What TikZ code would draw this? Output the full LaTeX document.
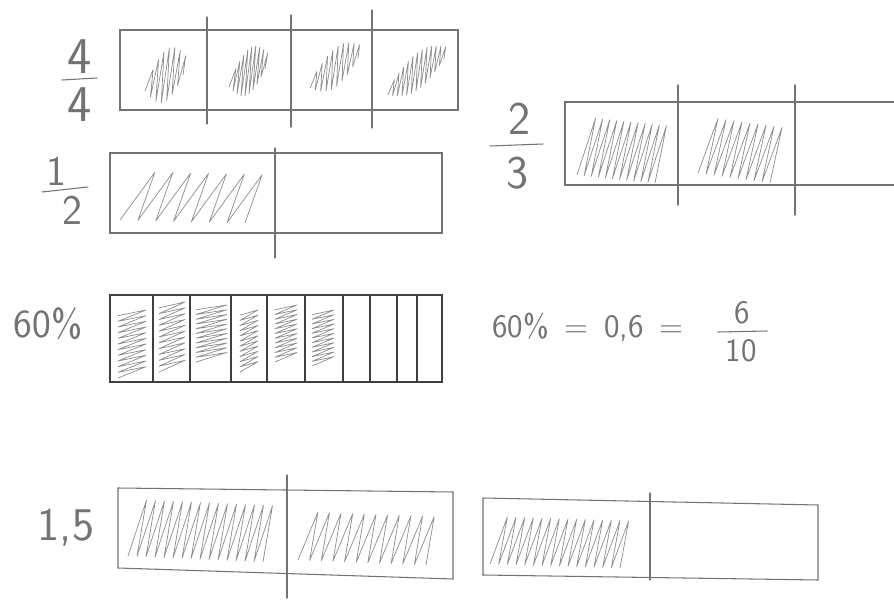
\documentclass[tikz,border=0pt]{standalone}

% pencil zigzag, strokes leaning right: left, width, top, bottom, strokes, rise, slant
\newcommand{\zigfill}[7]{%
  \draw[shade] (#1,#4) \foreach \k in {1,...,#5} {
      -- ({#1+(\k-0.5)*#2/#5+#7}, {#3-#6*(\k-0.5)/#5})
      -- ({#1+\k*#2/#5}, {#4-#6*\k/#5})};
}
% oval pencil blob: left, width, middle, half height, strokes, rise
\newcommand{\zigblob}[6]{%
  \draw[shade] (#1,{#3+0.5*#6+0.3*#4}) \foreach \k in {1,...,#5} {
      -- ({#1+(\k-0.5)*#2/#5+0.2*#4},
          {#3-#6*((\k-0.5)/#5-0.5)-#4*(0.3+0.7*sin(180*(\k-0.5)/#5))})
      -- ({#1+\k*#2/#5},
          {#3-#6*(\k/#5-0.5)+#4*(0.3+0.7*sin(180*\k/#5))})};
}
% pencil zigzag stacked downwards: left, width, top, bottom, strokes
\newcommand{\zigstack}[5]{%
  \draw[shade] (#1,{#3+(#4-#3)/(#5+1)}) \foreach \k in {1,...,#5} {
      -- ({#1+#2}, {#3+(\k-1)*(#4-#3)/(#5+1)})
      -- (#1, {#3+(\k+1)*(#4-#3)/(#5+1)})};
}

\begin{document}
\begin{tikzpicture}[x=0.03cm, y=-0.03cm,
    pencil/.style={draw=black!55, line width=0.9pt, line cap=round},
    bold/.style={draw=black!75, line width=1.4pt, line cap=round},
    shade/.style={draw=black!45, line width=0.6pt, line join=round},
    digit/.style={text=black!55, inner sep=0pt, font=\sffamily\fontsize{#1}{#1}\selectfont},
    digit/.default=40]
    \useasboundingbox (0,0) rectangle (894,601);

    % 4/4
    \node[digit=44] (num44) at (80,57) {4};
    \node[digit=44] (den44) at (80,105) {4};
    \draw[pencil] (62,80) -- (97,78);
    \draw[pencil] (120,30) rectangle (458,110);
    \foreach \x/\ya/\yb in {207/17/124, 291/15/127, 372/10/128}
        \draw[pencil] (\x,\ya) -- (\x,\yb);
    \zigblob{145}{38}{75}{27}{7}{16}
    \zigblob{229}{36}{71}{24}{9}{18}
    \zigblob{310}{48}{67}{21}{9}{30}
    \zigblob{388}{56}{71}{20}{12}{36}

    % 1/2
    \node[digit=36] (num12) at (56,171) {1};
    \node[digit=36] (den12) at (72,210) {2};
    \draw[pencil] (42,192) -- (88,187);
    \draw[pencil] (110,153) rectangle (442,233);
    \draw[pencil] (275,148) -- (275,258);
    \zigfill{120}{125}{172}{220}{7}{-3}{26}

    % 2/3
    \node[digit=40] (num23) at (520,119) {2};
    \node[digit=40] (den23) at (518,173) {3};
    \draw[pencil] (490,146) -- (543,144);
    \draw[pencil] (894,102) -- (565,102) -- (565,185) -- (894,185);
    \draw[pencil] (678,85) -- (678,205);
    \draw[pencil] (795,85) -- (795,215);
    \zigfill{577}{78}{118}{175}{11}{-8}{15}
    \zigfill{698}{72}{118}{173}{9}{-10}{16}

    % 60 %
    \node[digit=34] (pct) at (48,324) {60\%};
    \draw[bold] (110,295) rectangle (442,382);
    \foreach \x in {153,190,231,267,305,343,370,397,417}
        \draw[bold] (\x,295) -- (\x,382);
    \foreach \x/\w/\ya/\yb in {118/28/310/378, 159/26/302/372, 196/31/305/362,
                               240/18/310/372, 275/22/305/362, 312/22/310/366}
        {\zigstack{\x}{\w}{\ya}{\yb}{11}}

    % 60 % = 0,6 = 6/10
    \node[digit=28, anchor=west] (eq) at (492,327) {60\% \,=\, 0,6 \,=};
    \node[digit=28] (num610) at (742,313) {6};
    \node[digit=28] (den610) at (741,351) {10};
    \draw[pencil] (718,332) -- (767,331);

    % 1,5
    \node[digit=40] (onehalf) at (66,528) {1,5};
    \draw[pencil] (453,492) -- (118,488) -- (118,568) -- (453,579) -- cycle;
    \draw[pencil] (287,475) -- (287,598);
    \zigfill{128}{135}{500}{556}{15}{-6}{14}
    \zigfill{298}{128}{512}{560}{11}{-5}{14}
    \draw[pencil] (818,505) -- (483,498) -- (483,575) -- (818,580) -- cycle;
    \draw[pencil] (650,493) -- (650,580);
    \zigfill{490}{130}{517}{564}{15}{-4}{13}
\end{tikzpicture}
\end{document}
